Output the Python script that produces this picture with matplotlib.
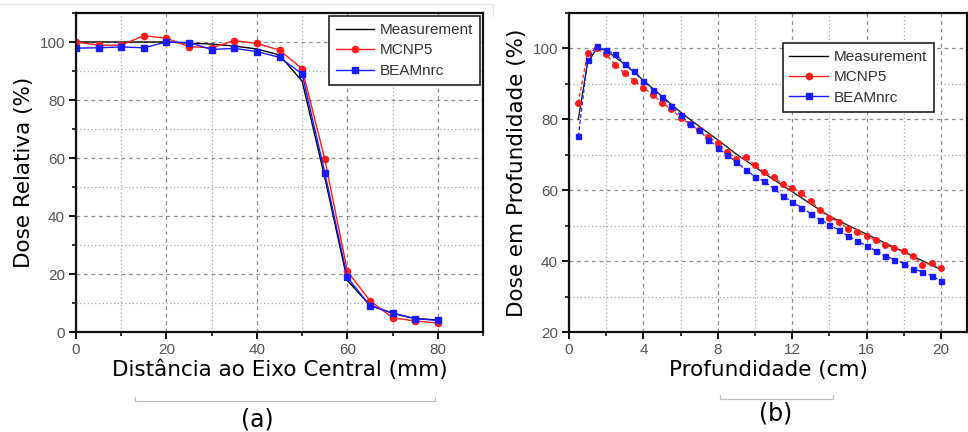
import numpy as np
import matplotlib
matplotlib.use("Agg")
import matplotlib.pyplot as plt
from matplotlib.lines import Line2D
from matplotlib.ticker import MultipleLocator

# (a) lateral profile
dist_meas = [0, 5, 10, 15, 20, 25, 30, 35, 40, 45, 50, 55, 60, 65, 70, 75, 80]
dose_meas_a = [100, 100, 100, 100, 100, 99.6, 99.3, 98.6, 97.6, 95.5, 86.5, 53.4, 17.8, 9.2, 6.5, 4.6, 4.2]
dist_sim = [0, 5, 10, 15, 20, 25, 30, 35, 40, 45, 50, 55, 60, 65, 70, 75, 80]
dose_mcnp_a = [100, 98.9, 98.9, 102.2, 101.3, 98.4, 98.0, 100.5, 99.5, 97.2, 90.8, 59.7, 21.0, 10.8, 4.9, 3.8, 3.1]
dose_beam_a = [97.9, 98.0, 98.3, 98.0, 100, 99.8, 97.4, 97.8, 96.7, 94.7, 89.0, 55.0, 18.8, 9.1, 6.5, 4.6, 4.0]

# (b) depth dose
depth_meas = [0.5, 1, 1.5, 2, 3, 4, 5, 6, 7, 8, 9, 10, 11, 12, 13, 14, 15, 16, 17, 18, 19, 20]
dose_meas_b = [80, 96, 100, 99.5, 95.5, 91, 86.5, 82, 78, 74.2, 70.2, 66.6, 63, 59.6, 56.1, 52.7, 50.1, 47.6, 45.1, 42.6, 40.1, 37.6]
depth_sim = [0.5, 1.0, 1.5, 2.0, 2.5, 3.0, 3.5, 4.0, 4.5, 5.0, 5.5, 6.0, 6.5, 7.0, 7.5, 8.0,
             8.5, 9.0, 9.5, 10.0, 10.5, 11.0, 11.5, 12.0, 12.5, 13.0, 13.5, 14.0, 14.5, 15.0,
             15.5, 16.0, 16.5, 17.0, 17.5, 18.0, 18.5, 19.0, 19.5, 20.0]
dose_mcnp_b = [84.7, 98.8, 100, 98.3, 95.3, 93.1, 90.9, 88.9, 87.0, 84.7, 82.8, 80.5, 78.6, 76.9, 75.1, 73.2,
               70.8, 68.9, 69.4, 67.1, 65.2, 63.8, 61.7, 60.7, 59.1, 57.0, 54.4, 52.2, 51.1, 49.2,
               48.2, 47.0, 45.9, 44.5, 43.8, 42.9, 41.4, 39.0, 39.4, 38.1]
dose_beam_b = [75.2, 96.7, 100.7, 99.5, 98.4, 95.6, 93.6, 90.9, 88.4, 86.4, 83.7, 81.2, 78.8, 76.9, 74.3, 72.0,
               69.9, 68.0, 65.8, 63.8, 62.5, 60.5, 58.4, 56.7, 55.1, 53.4, 51.7, 50.3, 48.7, 47.1,
               45.7, 44.3, 42.9, 41.5, 40.4, 39.3, 37.9, 36.9, 35.9, 34.4]

W, H = 9.68, 4.32
fig = plt.figure(figsize=(W, H), dpi=100)

tick_font = dict(family=['Liberation Sans', 'DejaVu Sans'], size=11, color='#555555')
label_size = 15.5


def style_axes(ax, xmaj, xmin, ymaj, ymin):
    ax.xaxis.set_major_locator(MultipleLocator(xmaj))
    ax.xaxis.set_minor_locator(MultipleLocator(xmin))
    ax.yaxis.set_major_locator(MultipleLocator(ymaj))
    ax.yaxis.set_minor_locator(MultipleLocator(ymin))
    ax.grid(True, which='major', color='#8c8c8c', linestyle=(0, (3, 3)), linewidth=0.9)
    ax.grid(True, which='minor', color='#a8a8a8', linestyle=(0, (1, 2)), linewidth=0.9)
    ax.set_axisbelow(True)
    for s in ax.spines.values():
        s.set_linewidth(1.6)
        s.set_color('#111111')
    ax.tick_params(which='major', direction='out', length=5, width=1.4, color='#111111', pad=3)
    ax.tick_params(which='minor', direction='out', length=3, width=1.2, color='#111111')
    for lab in ax.get_xticklabels() + ax.get_yticklabels():
        lab.set_fontfamily(tick_font['family'])
        lab.set_fontsize(tick_font['size'])
        lab.set_color(tick_font['color'])


def legend(ax, loc, anchor):
    handles = [
        Line2D([], [], color='black', lw=1.0),
        Line2D([], [], color='#ff1a1a', lw=1.0, marker='o', ms=4.5),
        Line2D([], [], color='#1a1aff', lw=1.0, marker='s', ms=4),
    ]
    leg = ax.legend(handles, ['Measurement', 'MCNP5', 'BEAMnrc'], loc=loc, bbox_to_anchor=anchor,
                    prop=dict(family=['Liberation Sans', 'DejaVu Sans'], size=11),
                    frameon=True, fancybox=False, framealpha=1, edgecolor='#222222',
                    handlelength=2.5, handletextpad=0.4, borderpad=0.45, labelspacing=0.42,
                    borderaxespad=0)
    leg.get_frame().set_linewidth(1.2)
    for t in leg.get_texts():
        t.set_color('#333333')


# ---- panel (a)
ax1 = fig.add_axes([76 / 968, 1 - 332 / 432, (483 - 76) / 968, (332 - 13) / 432])
ax1.plot(dist_meas, dose_meas_a, color='black', lw=1.0)
ax1.plot(dist_sim, dose_mcnp_a, color='#ff1a1a', lw=1.0, marker='o', ms=4.5)
ax1.plot(dist_sim, dose_beam_a, color='#1a1aff', lw=1.0, marker='s', ms=4)
ax1.set_xlim(0, 90)
ax1.set_ylim(0, 110)
style_axes(ax1, 20, 10, 20, 10)
ax1.set_xlabel('Distância ao Eixo Central (mm)', fontsize=label_size, labelpad=2)
ax1.set_ylabel('Dose Relativa (%)', fontsize=label_size, labelpad=4)
legend(ax1, 'upper right', (0.993, 0.99))

# ---- panel (b)
ax2 = fig.add_axes([569 / 968, 1 - 332 / 432, (967 - 569) / 968, (332 - 13) / 432])
ax2.plot(depth_meas, dose_meas_b, color='#222222', lw=1.0)
ax2.plot(depth_sim, dose_mcnp_b, color='#ff1a1a', lw=0.9, ls=(0, (3, 2)), marker='o', ms=4)
ax2.plot(depth_sim, dose_beam_b, color='#1a1aff', lw=0.9, ls=(0, (3, 2)), marker='s', ms=3.6)
ax2.set_xlim(0, 21.4)
ax2.set_ylim(20, 110)
style_axes(ax2, 4, 2, 20, 10)
ax2.set_xlabel('Profundidade (cm)', fontsize=label_size, labelpad=2)
ax2.set_ylabel('Dose em Profundidade (%)', fontsize=label_size, labelpad=4)
legend(ax2, 'upper right', (0.917, 0.906))

# caption brackets and letters
def bracket(x0, x1, y):
    fx0, fx1, fy = x0 / 968, x1 / 968, 1 - y / 432
    up = 4 / 432
    fig.add_artist(Line2D([fx0, fx0, fx1, fx1], [fy + up, fy, fy, fy + up],
                          transform=fig.transFigure, color='#c0c0c0', lw=0.9))

bracket(135, 435, 401)
bracket(720, 833, 399)
fig.text(257 / 968, 1 - 420 / 432, '(a)', ha='center', va='center', fontsize=17)
fig.text(776 / 968, 1 - 414 / 432, '(b)', ha='center', va='center', fontsize=17)

# faint scan borders
fig.add_artist(Line2D([0, 493 / 968, 493 / 968], [1 - 4 / 432, 1 - 4 / 432, 1 - 16 / 432],
                      transform=fig.transFigure, color='#e4e4e4', lw=0.8))

fig.savefig('out.png', dpi=100)
